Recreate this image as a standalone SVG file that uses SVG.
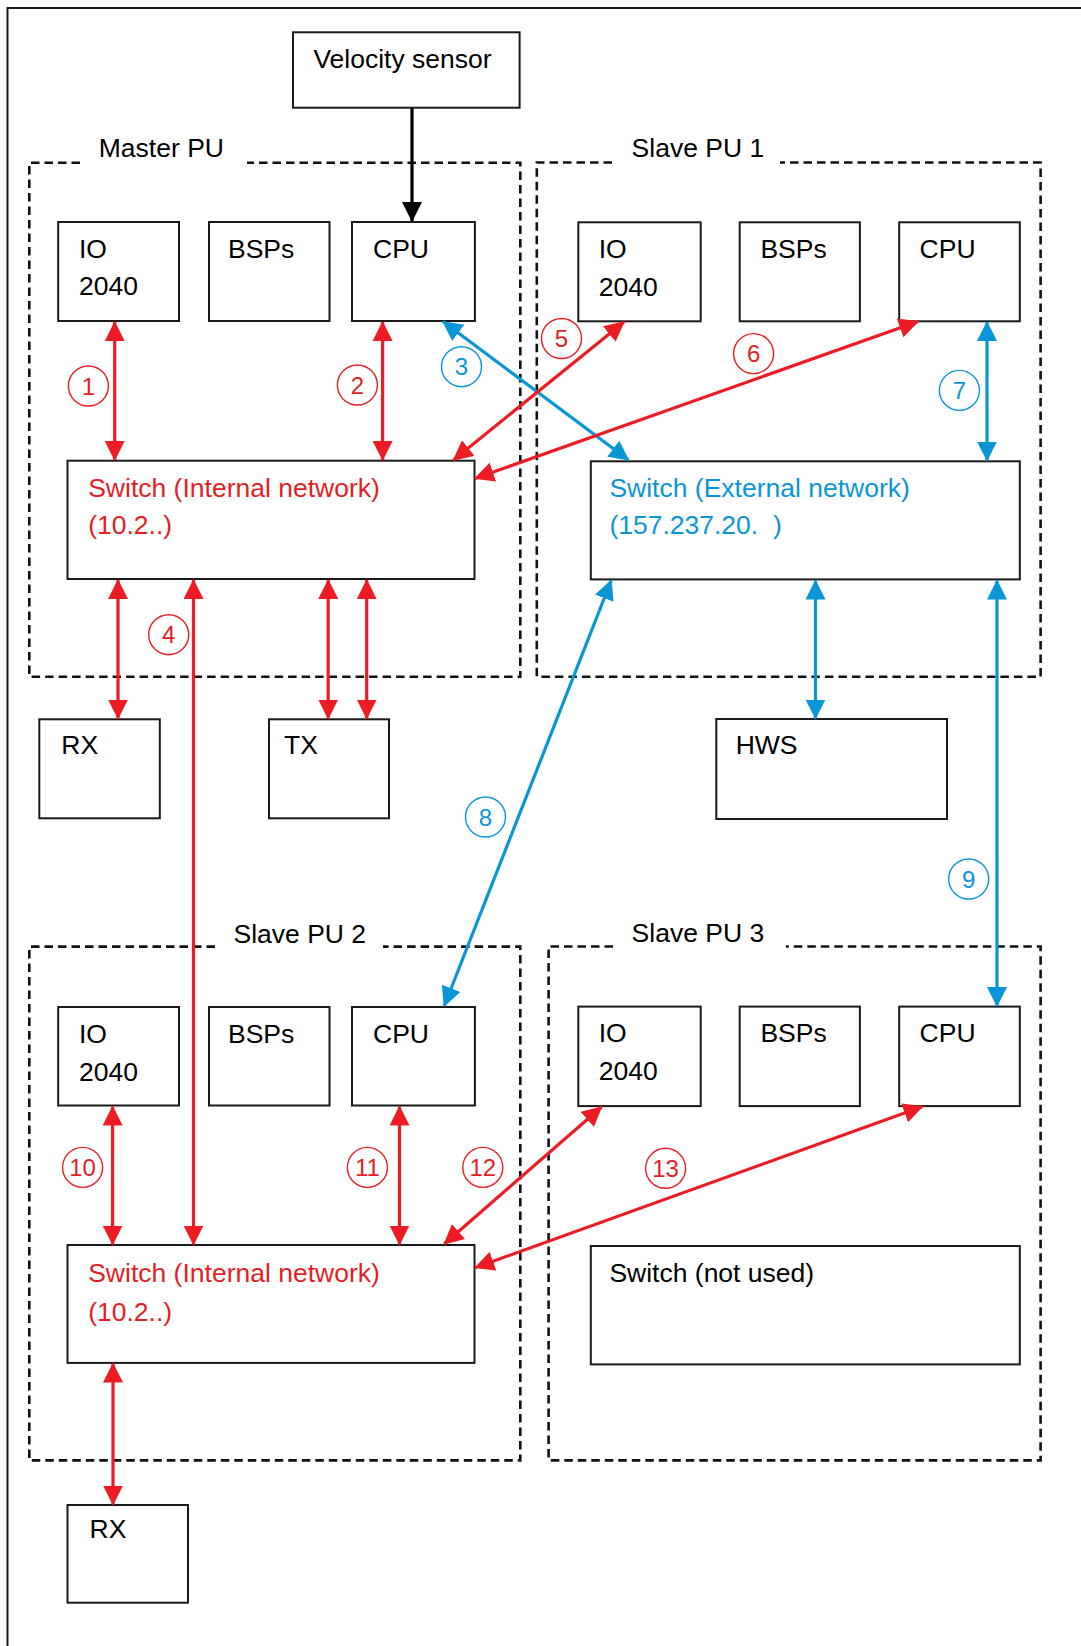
<svg xmlns="http://www.w3.org/2000/svg" width="1081" height="1646" viewBox="0 0 1081 1646">
<defs>
<style>
text{font-family:"Liberation Sans",Arial,sans-serif;font-size:26.5px;fill:#000}
.box{fill:#fff;stroke:#1a1a1a;stroke-width:2}
.grp{fill:none;stroke:#111;stroke-width:2.6;stroke-dasharray:8.5,5}
.red{stroke:#ED1C24;stroke-width:3.2;fill:none}
.blue{stroke:#0A95D7;stroke-width:3.2;fill:none}
.blk{stroke:#000;stroke-width:3.2;fill:none}
.rt{fill:#E31E26}
.bt{fill:#0A95D7}
.cr{fill:#fff;stroke:#ED1C24;stroke-width:1.4}
.cb{fill:#fff;stroke:#0A95D7;stroke-width:1.4}
.num{font-size:24px;text-anchor:middle}
</style>
<marker id="ar" viewBox="0 0 20 20" refX="19" refY="10" markerWidth="20" markerHeight="20" markerUnits="userSpaceOnUse" orient="auto-start-reverse"><path d="M0,0 L20,10 L0,20 z" fill="#ED1C24"/></marker>
<marker id="ab" viewBox="0 0 20 20" refX="19" refY="10" markerWidth="20" markerHeight="20" markerUnits="userSpaceOnUse" orient="auto-start-reverse"><path d="M0,0 L20,10 L0,20 z" fill="#0A95D7"/></marker>
<marker id="ak" viewBox="0 0 20 20" refX="19" refY="10" markerWidth="20" markerHeight="20" markerUnits="userSpaceOnUse" orient="auto-start-reverse"><path d="M0,0 L20,10 L0,20 z" fill="#000"/></marker>
</defs>
<rect width="1081" height="1646" fill="#fff"/>
<path d="M7.5,1646 V8 H1081" fill="none" stroke="#1a1a1a" stroke-width="2"/>

<g id="group-master">
<path class="grp" d="M80,162.7 H29.3 V676.7 H520.3 V162.7 H247"/>
<text x="98.8" y="157">Master PU</text>
</g>
<g id="group-slave1">
<path class="grp" d="M612,162.5 H536.8 V676.7 H1040.6 V162.5 H780"/>
<text x="631.6" y="157">Slave PU 1</text>
</g>
<g id="group-slave2">
<path class="grp" d="M215,946.6 H29.3 V1460.4 H520.3 V946.6 H383"/>
<text x="233.5" y="943">Slave PU 2</text>
</g>
<g id="group-slave3">
<path class="grp" d="M613,946.5 H548.6 V1460.4 H1040.6 V946.5 H786"/>
<text x="631.6" y="942">Slave PU 3</text>
</g>

<g id="velocity-sensor"><rect class="box" x="293" y="32.3" width="226.6" height="75.4"/><text x="313.4" y="68.3">Velocity sensor</text></g>

<g id="m-io"><rect class="box" x="58.2" y="222" width="120.8" height="99"/><text x="79" y="258">IO</text><text x="79" y="295">2040</text></g>
<g id="m-bsps"><rect class="box" x="209" y="222" width="120.5" height="99"/><text x="228" y="258">BSPs</text></g>
<g id="m-cpu"><rect class="box" x="352" y="222" width="122.9" height="99"/><text x="373" y="258">CPU</text></g>
<g id="m-switch"><rect class="box" x="67.5" y="460.7" width="407" height="118.3"/><text class="rt" x="88.2" y="497">Switch (Internal network)</text><text class="rt" x="88.2" y="534">(10.2..)</text></g>
<g id="m-rx"><rect class="box" x="39.3" y="719.3" width="120.5" height="99"/><text x="61.3" y="754.3">RX</text></g>
<g id="m-tx"><rect class="box" x="269" y="719.3" width="120" height="99"/><text x="284" y="754.3">TX</text></g>

<g id="s1-io"><rect class="box" x="578.3" y="222.3" width="122.4" height="99"/><text x="598.7" y="258">IO</text><text x="598.7" y="295.6">2040</text></g>
<g id="s1-bsps"><rect class="box" x="739.7" y="222.3" width="120.2" height="99"/><text x="760.4" y="258">BSPs</text></g>
<g id="s1-cpu"><rect class="box" x="899.2" y="222.3" width="120.6" height="99"/><text x="919.6" y="258">CPU</text></g>
<g id="s1-switch"><rect class="box" x="590.8" y="461.3" width="429" height="118.1"/><text class="bt" x="609.4" y="497">Switch (External network)</text><text class="bt" x="609.4" y="533.6" style="white-space:pre">(157.237.20.  )</text></g>
<g id="hws"><rect class="box" x="716.3" y="719" width="230.7" height="100"/><text x="735.7" y="754">HWS</text></g>

<g id="s2-io"><rect class="box" x="58.2" y="1007" width="120.8" height="98.5"/><text x="79" y="1042.7">IO</text><text x="79" y="1080.8">2040</text></g>
<g id="s2-bsps"><rect class="box" x="209" y="1007" width="120.5" height="98.5"/><text x="228" y="1042.7">BSPs</text></g>
<g id="s2-cpu"><rect class="box" x="352" y="1007" width="122.9" height="98.5"/><text x="373" y="1042.7">CPU</text></g>
<g id="s2-switch"><rect class="box" x="67.5" y="1245" width="407" height="117.9"/><text class="rt" x="88.2" y="1282">Switch (Internal network)</text><text class="rt" x="88.2" y="1321">(10.2..)</text></g>
<g id="s2-rx"><rect class="box" x="67.5" y="1505" width="120.5" height="97.7"/><text x="89.5" y="1537.5">RX</text></g>

<g id="s3-io"><rect class="box" x="578.3" y="1006.6" width="122.4" height="99.5"/><text x="598.7" y="1042.4">IO</text><text x="598.7" y="1080">2040</text></g>
<g id="s3-bsps"><rect class="box" x="739.7" y="1006.6" width="120.2" height="99.5"/><text x="760.4" y="1042.4">BSPs</text></g>
<g id="s3-cpu"><rect class="box" x="899.2" y="1006.6" width="120.6" height="99.5"/><text x="919.6" y="1042.4">CPU</text></g>
<g id="s3-switch"><rect class="box" x="590.8" y="1246" width="429" height="118.4"/><text x="609.4" y="1282">Switch (not used)</text></g>

<g id="connectors">
<line class="blk" x1="412" y1="108" x2="412" y2="221" marker-end="url(#ak)"/>
<line class="red" x1="114.7" y1="322" x2="114.7" y2="460" marker-start="url(#ar)" marker-end="url(#ar)"/>
<line class="red" x1="382.6" y1="322" x2="382.6" y2="460" marker-start="url(#ar)" marker-end="url(#ar)"/>
<line class="blue" x1="443" y1="321.5" x2="628.5" y2="460" marker-start="url(#ab)" marker-end="url(#ab)"/>
<line class="red" x1="453.5" y1="460" x2="624" y2="322" marker-start="url(#ar)" marker-end="url(#ar)"/>
<line class="red" x1="475" y1="478.5" x2="918" y2="321.5" marker-start="url(#ar)" marker-end="url(#ar)"/>
<line class="blue" x1="987" y1="322" x2="987" y2="460.5" marker-start="url(#ab)" marker-end="url(#ab)"/>
<line class="red" x1="118" y1="580" x2="118" y2="718.5" marker-start="url(#ar)" marker-end="url(#ar)"/>
<line class="red" x1="193.5" y1="580" x2="193.5" y2="1244.5" marker-start="url(#ar)" marker-end="url(#ar)"/>
<line class="red" x1="328.2" y1="580" x2="328.2" y2="718.5" marker-start="url(#ar)" marker-end="url(#ar)"/>
<line class="red" x1="366.7" y1="580" x2="366.7" y2="718.5" marker-start="url(#ar)" marker-end="url(#ar)"/>
<line class="blue" x1="611.2" y1="580.5" x2="444.2" y2="1006" marker-start="url(#ab)" marker-end="url(#ab)"/>
<line class="blue" x1="815.5" y1="580.5" x2="815.5" y2="718.5" marker-start="url(#ab)" marker-end="url(#ab)"/>
<line class="blue" x1="997" y1="580.5" x2="997" y2="1006" marker-start="url(#ab)" marker-end="url(#ab)"/>
<line class="red" x1="112.6" y1="1106.5" x2="112.6" y2="1244.5" marker-start="url(#ar)" marker-end="url(#ar)"/>
<line class="red" x1="399.5" y1="1106.5" x2="399.5" y2="1244.5" marker-start="url(#ar)" marker-end="url(#ar)"/>
<line class="red" x1="444.2" y1="1244" x2="601.6" y2="1107" marker-start="url(#ar)" marker-end="url(#ar)"/>
<line class="red" x1="475.2" y1="1267.7" x2="922.5" y2="1106.5" marker-start="url(#ar)" marker-end="url(#ar)"/>
<line class="red" x1="113" y1="1363.5" x2="113" y2="1504.5" marker-start="url(#ar)" marker-end="url(#ar)"/>
</g>

<g id="labels">
<circle class="cr" cx="88.4" cy="386" r="20"/><text class="num rt" x="88.4" y="394.5">1</text>
<circle class="cr" cx="357.4" cy="385" r="20"/><text class="num rt" x="357.4" y="393.5">2</text>
<circle class="cb" cx="461.5" cy="366.7" r="20"/><text class="num bt" x="461.5" y="375.2">3</text>
<circle class="cr" cx="168.7" cy="634.7" r="20"/><text class="num rt" x="168.7" y="643.2">4</text>
<circle class="cr" cx="561.5" cy="338.5" r="20"/><text class="num rt" x="561.5" y="347">5</text>
<circle class="cr" cx="753.6" cy="353.6" r="20"/><text class="num rt" x="753.6" y="362.1">6</text>
<circle class="cb" cx="959.4" cy="390.4" r="20"/><text class="num bt" x="959.4" y="398.9">7</text>
<circle class="cb" cx="485.5" cy="817" r="20"/><text class="num bt" x="485.5" y="825.5">8</text>
<circle class="cb" cx="968.7" cy="879" r="20"/><text class="num bt" x="968.7" y="887.5">9</text>
<circle class="cr" cx="82.6" cy="1167.4" r="20"/><text class="num rt" x="82.6" y="1175.9">10</text>
<circle class="cr" cx="367.4" cy="1167.4" r="20"/><text class="num rt" x="367.4" y="1175.9">11</text>
<circle class="cr" cx="482.8" cy="1167.4" r="20"/><text class="num rt" x="482.8" y="1175.9">12</text>
<circle class="cr" cx="665.6" cy="1168.3" r="20"/><text class="num rt" x="665.6" y="1176.8">13</text>
</g>
</svg>
